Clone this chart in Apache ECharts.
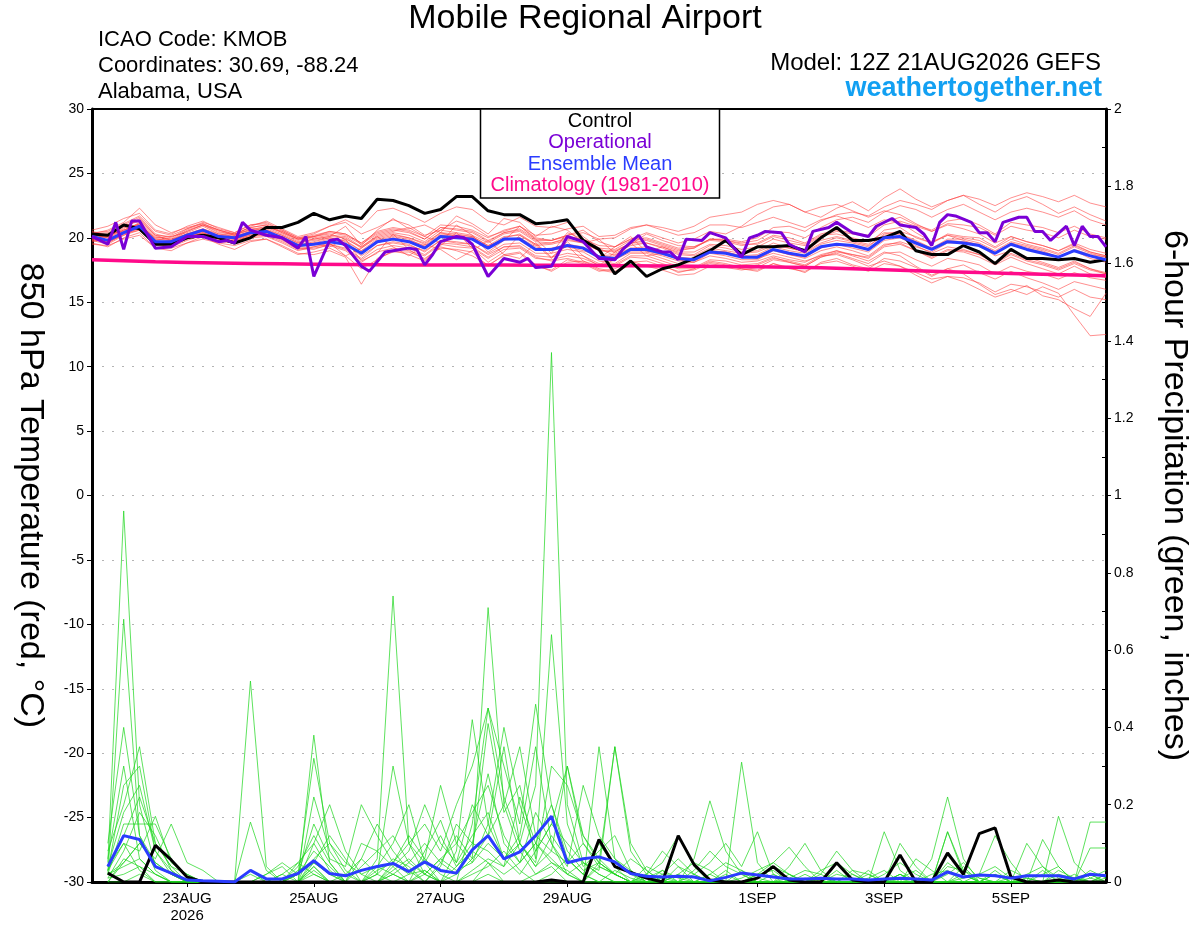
<!DOCTYPE html>
<html>
<head>
<meta charset="utf-8">
<script src="https://cdn.jsdelivr.net/npm/echarts@6/dist/echarts.min.js"></script>
<style>
html,body{margin:0;padding:0;background:#fff;}
#chart{width:1200px;height:927px;}
</style>
</head>
<body>
<div id="chart"></div>
<script>
// ---------- tick labels ----------
const xTickHours = [36, 84, 132, 180, 252, 300, 348];
const xTickLabels = ['23AUG\n2026', '25AUG', '27AUG', '29AUG', '1SEP', '3SEP', '5SEP'];

// ---------- 850 hPa temperature, 6-hourly from 12Z 21AUG (hour 0) ----------
const tempControl = [20.3,20.2,21.0,20.7,19.5,19.5,20.0,20.2,20.0,19.6, 20.0,20.8,20.8,21.2,21.9,21.4,21.7,21.5,23.0,22.9, 22.5,21.9,22.2,23.2,23.2,22.1,21.8,21.8,21.1,21.2, 21.4,19.8,19.1,17.2,18.2,17.0,17.6,17.9,18.4,19.0, 19.8,18.7,19.3,19.3,19.4,19.0,20.0,20.8,19.8,19.8, 20.0,20.5,19.0,18.7,18.7,19.4,18.9,18.0,19.1,18.4, 18.4,18.3,18.4,18.1,18.3];
const tempMean = [20.1,19.8,20.4,20.9,19.7,19.7,20.2,20.6,20.1,20.0, 20.4,20.5,20.0,19.4,19.5,19.7,19.5,18.8,19.7,19.9, 19.7,19.2,20.1,20.0,19.9,19.2,19.9,19.9,19.1,19.1, 19.4,19.2,18.5,18.4,19.1,19.1,18.8,18.4,18.3,18.9, 18.8,18.5,18.5,19.1,18.8,18.6,19.3,19.5,19.4,19.1, 20.0,20.1,19.6,19.1,19.7,19.6,19.4,18.8,19.5,19.1, 18.8,18.5,19.0,18.6,18.3];
// climatology, daily (every 24 h)
const climTemp = [18.3,18.15,18.05,17.98,17.93,17.9,17.9,17.88,17.85,17.82,17.78,17.72,17.6,17.45,17.3,17.18,17.05];
// operational run (irregular output hours)
const opHours = [0,6,9,12,15,18, 24,30,36,42,48, 51,54,57,60,66, 72,78,81,84,90, 93,96,102,105,111, 114,120,123,126,129, 132,138,141,144,150, 156,162,165,168,174, 180,186,192,198,201, 207,210,216,219,222, 225,231,234,240,246, 249,252,255,261,264, 270,273,279,282,288, 294,297,303,306,312, 315,318,321,324,327, 333,336,339,342,345, 351,354,357,360,363, 369,372,375,378,381,384];
const opTemp = [20.1,19.5,21.2,19.1,21.3,21.3, 19.2,19.3,20.1,20.1,19.7, 19.8,19.6,21.2,20.6,20.2, 20.0,19.2,20.1,17.0,19.8, 19.9,19.4,17.8,17.4,18.9, 19.0,19.2,19.1,17.9,18.7, 19.7,20.1,20.0,19.5,17.0, 18.4,18.1,18.4,17.7,17.8, 20.1,19.7,18.4,18.3,19.1, 20.2,19.3,18.9,18.9,18.3, 19.9,19.8,20.4,20.0,18.5, 20.0,20.2,20.5,20.4,19.5, 18.9,20.5,20.8,21.2,20.4, 20.1,20.9,21.5,21.0,20.8, 20.3,19.4,21.2,21.8,21.7, 21.2,20.4,20.4,19.7,21.2, 21.6,21.6,20.5,20.5,19.8, 20.9,19.4,20.9,20.1,20.1,19.3];

// ensemble members (temperature)
const tempM01 = [20.3,20.6,21.2,22.3,21.0,20.4,20.8,21.1,20.6,20.2, 20.9,21.3,20.7,20.1,20.4,20.9,21.2,20.3,20.8,21.4, 21.0,20.2,20.6,21.3,20.9,20.1,20.5,20.9,20.0,19.8, 20.2,20.6,19.7,19.3,19.9,20.4,20.0,19.6,19.9,20.5, 20.3,20.9,21.8,22.4,22.6,22.0,21.6,22.3,22.8,22.1, 23.1,23.8,23.0,22.4,22.9,23.3,22.6,22.0,22.8,23.2, 22.6,21.9,22.4,21.8,21.3];
const tempM02 = [19.6,19.3,20.0,20.4,19.2,19.0,19.6,20.1,19.5,19.1, 19.7,19.9,19.3,18.7,18.9,19.2,18.6,17.6,18.3,19.0, 18.7,18.2,19.3,19.0,18.6,17.9,18.6,18.8,17.8,17.5, 18.3,18.0,17.4,17.6,18.2,17.8,17.9,17.3,17.6,18.1, 17.9,17.6,17.4,18.0,17.7,17.3,18.1,18.4,17.9,17.6, 18.4,18.2,17.7,17.0,17.6,17.9,17.3,16.8,17.4,16.9, 16.5,16.0,16.6,16.3,16.0];
const tempM03 = [20.0,20.1,20.7,21.5,20.2,19.8,20.5,21.0,20.4,20.3, 20.6,20.9,20.4,19.8,20.1,20.3,19.9,19.3,20.2,20.5, 20.8,20.1,19.6,21.0,20.2,18.9,19.8,20.9,19.9,18.8, 20.4,19.9,18.4,19.3,20.1,18.9,19.3,18.8,18.7,19.4, 19.2,18.9,19.0,19.6,19.2,19.0,19.8,20.1,19.8,19.5, 20.6,20.8,20.0,19.6,20.3,20.1,20.0,19.3,20.1,19.7, 19.4,19.0,19.6,19.1,18.8];
const tempM04 = [19.9,19.6,20.3,20.6,19.5,19.4,19.9,20.4,19.9,19.8, 20.2,20.3,19.8,19.2,19.1,19.5,19.2,18.4,19.4,19.6, 19.4,19.0,19.8,19.6,19.5,18.8,19.5,19.6,18.8,18.8, 19.1,18.9,18.2,18.0,18.8,18.8,18.4,18.0,18.1,18.6, 18.4,18.1,18.2,18.6,18.3,18.1,18.7,19.0,18.6,18.2, 18.9,18.6,17.8,17.1,17.6,17.2,16.4,15.6,16.0,15.6, 16.2,15.7,14.0,12.4,12.5];
const tempM05 = [20.2,20.0,20.8,21.0,19.9,19.8,20.3,20.5,20.2,19.9, 20.3,20.6,20.2,19.6,19.8,20.0,19.7,19.0,19.6,20.0, 19.8,19.4,20.3,20.2,20.1,19.4,19.8,20.0,19.3,19.0, 19.3,19.0,18.6,18.7,19.2,19.0,18.7,18.5,18.4,19.0, 18.9,18.6,18.4,18.8,18.5,18.2,18.6,18.7,18.3,17.8, 18.2,17.8,17.3,16.8,17.0,16.6,16.0,15.4,15.8,16.3, 15.5,15.2,14.5,13.9,15.7];
const tempM06 = [20.5,20.2,21.0,21.6,20.3,20.0,20.7,21.2,20.8,20.4, 21.0,21.1,20.6,20.0,20.3,20.9,21.4,20.8,22.1,22.3, 21.8,21.2,21.9,22.4,22.2,21.3,21.0,21.6,20.9,20.8, 21.2,20.1,19.2,18.6,19.5,20.3,19.8,19.4,19.3,19.8, 19.7,19.4,19.6,20.2,20.0,19.6,20.3,20.6,20.4,20.2, 21.2,21.6,21.0,20.6,21.3,21.5,21.0,20.3,21.2,21.0, 20.8,20.4,20.9,20.3,20.0];
const tempM07 = [19.8,19.5,20.2,20.8,19.6,19.3,19.8,20.2,19.7,19.6, 20.0,20.1,19.6,19.0,19.3,19.5,19.1,18.3,19.1,19.4, 19.2,18.7,19.6,19.5,19.3,18.5,19.3,19.4,18.6,18.5, 18.8,18.6,18.0,17.9,18.6,18.6,18.2,17.8,17.7,18.3, 18.2,17.9,18.0,18.5,18.1,17.8,18.5,18.8,18.4,18.0, 18.8,18.9,18.3,17.8,18.4,18.2,17.9,17.2,17.8,17.4, 17.2,16.8,17.3,16.9,16.7];
const tempM08 = [20.1,20.3,20.5,21.2,20.0,20.1,20.4,20.9,20.3,20.1, 20.5,20.8,20.3,19.7,19.9,20.1,20.0,19.2,20.0,20.3, 20.0,19.6,20.4,20.1,20.0,19.3,20.0,20.3,19.5,19.6, 20.0,19.8,19.2,19.1,19.8,19.9,19.5,19.1,19.2,19.9, 19.8,19.6,19.8,20.5,20.4,20.0,20.8,21.4,21.6,21.2, 22.0,22.5,22.2,21.6,22.2,22.6,22.0,21.4,22.0,22.3, 22.0,21.6,22.1,21.4,21.0];
const tempM09 = [19.7,19.9,20.6,21.1,19.8,19.6,20.0,20.6,20.1,20.0, 20.4,20.3,19.9,19.3,19.6,19.3,19.9,18.2,18.8,20.3, 19.1,18.3,19.4,20.4,19.2,18.1,18.9,20.2,19.5,18.4, 19.7,18.6,17.8,18.9,19.6,18.6,18.8,18.3,18.1,18.8, 18.6,18.3,18.3,19.0,18.7,18.5,19.2,19.5,19.2,18.9, 19.8,20.0,19.4,18.8,19.3,19.1,18.7,18.1,18.8,18.3, 18.0,17.6,18.1,17.6,17.2];
const tempM10 = [20.4,20.1,20.9,21.3,20.1,19.9,20.6,21.0,20.5,20.2, 20.7,20.8,20.5,19.9,20.2,20.5,20.3,19.6,20.5,20.8, 20.6,20.1,21.0,20.9,20.6,20.0,20.6,20.9,20.2,20.3, 20.7,20.9,20.1,20.2,20.8,21.0,20.6,20.2,20.4,21.0, 21.0,20.8,21.2,21.6,21.2,20.8,21.4,21.7,21.3,20.8, 21.4,21.2,20.4,19.7,20.2,19.8,19.4,18.6,19.0,18.5, 18.1,17.7,18.2,17.6,17.3];
const tempM11 = [20.0,19.7,20.4,20.9,19.7,19.7,20.1,20.4,20.0,19.9, 20.3,20.5,20.1,19.5,19.6,19.9,19.6,18.7,19.8,20.1, 19.9,19.3,20.2,20.1,20.0,19.2,19.9,20.0,19.1,19.2, 19.5,19.3,18.6,18.5,19.2,19.3,18.9,18.4,18.3,19.0, 18.9,18.6,18.7,19.3,19.0,18.8,19.5,19.8,19.6,19.3, 20.3,20.5,20.1,19.6,20.2,20.0,19.8,19.2,19.9,19.5, 19.2,18.8,19.4,18.9,18.6];
const tempM12 = [19.5,19.4,19.9,20.2,19.2,19.2,19.6,19.9,19.6,19.4, 19.8,19.9,19.4,18.8,18.7,19.0,18.5,16.4,18.4,18.9, 18.9,18.4,19.2,19.1,18.9,17.8,18.7,18.9,17.9,17.4, 18.1,18.2,17.6,17.4,18.1,18.2,17.8,17.4,17.5,18.0, 17.8,17.6,17.5,18.0,17.6,17.4,18.0,18.2,17.8,17.4, 18.0,17.8,17.1,16.5,17.0,16.9,16.5,15.8,16.4,16.2, 15.8,15.4,16.0,15.4,15.2];
const tempM13 = [20.3,20.4,20.9,21.4,20.2,20.1,20.5,21.0,20.6,20.3, 20.8,21.0,20.4,19.9,20.0,20.2,20.1,19.3,20.1,20.4, 20.2,19.7,20.6,20.4,20.2,19.6,20.3,20.5,19.7,19.6, 19.9,19.6,19.0,19.0,19.6,19.6,19.3,18.9,18.9,19.5, 19.4,19.1,19.3,19.9,19.6,19.4,20.1,20.5,20.3,20.1, 21.0,21.3,20.9,20.5,21.1,21.0,20.8,20.2,20.9,20.6, 20.4,20.0,20.6,20.1,19.9];
const tempM14 = [19.9,20.2,20.6,21.0,20.0,19.9,20.3,20.7,20.3,20.2, 20.6,20.7,20.2,19.6,19.9,20.1,20.9,19.4,20.6,21.5, 20.7,21.0,20.4,21.7,21.1,20.3,21.5,21.2,20.1,20.9, 20.6,19.6,19.9,18.8,19.4,19.6,19.2,18.7,18.6,19.2, 19.0,18.8,18.9,19.4,19.2,18.9,19.6,20.0,19.7,19.4, 20.2,20.3,19.8,19.2,19.9,19.9,19.6,19.0,19.7,19.4, 19.1,18.7,19.3,18.8,18.5];
const tempM15 = [20.1,19.6,20.3,20.7,19.4,19.5,20.0,20.3,19.8,19.8, 20.1,20.2,19.7,19.1,19.2,19.4,19.0,18.1,18.9,19.2, 19.0,18.6,19.5,19.3,19.2,18.4,19.1,19.2,18.4,18.3, 18.6,18.4,17.9,17.8,18.5,18.4,18.0,17.6,17.6,18.2, 18.0,17.7,17.9,18.4,18.2,17.9,18.6,19.0,18.7,18.4, 19.3,19.5,19.0,18.5,19.1,19.0,18.7,18.0,18.7,18.2, 17.9,17.5,18.0,17.5,17.2];
const tempM16 = [20.6,20.9,21.5,21.9,20.6,20.3,20.9,21.3,20.7,20.4, 21.0,21.2,20.6,20.0,20.1,20.5,20.3,19.6,20.4,20.7, 20.5,19.9,20.8,20.7,20.5,19.8,20.4,20.6,19.8,19.8, 20.1,19.9,19.4,19.3,19.9,20.0,19.6,19.2,19.3,19.9, 19.8,19.5,19.5,20.1,19.8,19.5,20.2,20.3,20.0,19.7, 20.4,20.3,19.7,19.2,19.8,19.7,19.5,18.9,19.6,19.3, 19.0,18.5,19.0,18.4,18.1];
const tempM17 = [19.8,19.8,20.4,20.8,19.6,19.5,20.0,20.4,19.9,19.7, 20.1,20.3,19.9,19.3,19.5,19.7,19.5,18.6,19.4,19.7, 19.5,18.9,19.8,19.7,19.5,18.7,19.3,19.3,18.5,18.2, 18.4,18.1,17.5,17.3,17.9,17.8,17.5,17.1,17.2,17.8, 17.7,17.5,17.7,18.3,18.1,17.8,18.5,18.9,18.7,18.5, 19.4,19.7,19.3,18.9,19.6,19.6,19.4,18.8,19.5,19.2, 18.9,18.5,19.1,18.7,18.5];
const tempM18 = [20.2,20.0,20.6,21.1,19.9,19.8,20.3,20.7,20.2,20.1, 20.5,20.6,20.0,19.4,19.7,20.0,19.8,19.0,19.9,20.2, 20.0,19.5,20.4,20.3,20.1,19.4,20.1,20.2,19.4,19.5, 19.8,19.6,19.0,18.9,19.6,19.8,19.4,19.0,19.2,19.9, 19.9,19.7,20.0,20.8,20.9,20.5,21.3,21.8,22.0,21.7, 22.4,22.9,22.6,22.2,22.9,23.3,23.0,22.5,23.1,23.5, 23.2,22.8,23.3,22.7,22.4];
const tempM19 = [19.9,19.7,20.2,20.6,19.5,19.6,20.1,20.5,20.0,19.9, 20.2,20.4,19.9,19.2,19.3,19.6,18.6,19.2,20.1,19.3, 18.6,19.5,19.1,18.3,19.0,19.8,18.7,18.4,19.6,18.5, 19.4,18.2,17.8,18.3,18.9,18.9,18.6,18.2,18.2,18.9, 18.8,18.5,18.6,19.1,18.7,18.4,19.0,19.3,19.0,18.6, 19.5,19.6,19.0,18.4,19.0,18.9,18.5,17.9,18.5,18.0, 17.6,17.2,17.8,17.2,16.9];
const tempM20 = [20.4,20.5,21.1,21.7,20.5,20.2,20.7,21.1,20.6,20.3, 20.8,21.0,20.5,19.9,20.1,20.4,20.2,19.5,20.3,20.6, 20.4,19.9,20.8,20.6,20.4,19.7,20.4,20.7,19.9,19.8, 20.2,20.4,19.9,20.0,20.7,21.0,20.8,20.5,20.9,21.6, 21.8,22.0,22.6,22.9,22.6,22.0,22.4,22.6,22.1,21.6, 22.1,21.8,21.1,20.5,21.0,20.7,20.3,19.6,20.1,19.7, 19.4,19.0,19.5,18.9,18.6];
const tempMembers = [tempM01,tempM02,tempM03,tempM04,tempM05,tempM06,tempM07,tempM08,tempM09,tempM10,tempM11,tempM12,tempM13,tempM14,tempM15,tempM16,tempM17,tempM18,tempM19,tempM20];

// ---------- 6-hour precipitation (inches), valid hours 6,12,...,384 ----------
const precipControl = [0.023,0,0,0.095,0.057,0.013,0,0,0,0, 0,0,0,0,0,0,0,0,0,0, 0,0,0,0,0,0,0,0,0.005,0, 0,0.11,0.04,0.025,0.01,0,0.12,0.045,0.005,0, 0,0.01,0.04,0.005,0,0,0.05,0.005,0,0, 0.07,0,0,0.075,0.02,0.125,0.14,0.013,0,0, 0.005,0,0,0];
const precipMean = [0.04,0.12,0.11,0.04,0.023,0.005,0.003,0.002,0,0.03, 0.008,0.008,0.022,0.055,0.022,0.016,0.03,0.04,0.048,0.027, 0.052,0.03,0.023,0.083,0.12,0.06,0.078,0.12,0.17,0.05, 0.06,0.065,0.052,0.022,0.015,0.013,0.015,0.013,0.003,0.012, 0.023,0.018,0.013,0.008,0.008,0.01,0.008,0.008,0.005,0.008, 0.01,0.008,0.005,0.026,0.013,0.018,0.016,0.01,0.016,0.016, 0.016,0.008,0.02,0.016];
const precipM01 = [0.05,0.96,0.20,0.04,0.02,0,0,0,0,0, 0,0.02,0.05,0.10,0.03,0,0.04,0.08,0.12,0.05, 0.02,0.06,0.10,0.18,0.25,0.12,0.05,0.10,0.20,0.08, 0.03,0.05,0.02,0,0.01,0.03,0,0,0.02,0.05, 0.03,0.01,0,0,0.02,0,0,0,0.01,0.03, 0,0,0,0.05,0.02,0,0,0,0.01,0, 0,0.02,0,0];
const precipM02 = [0.02,0.68,0.12,0.03,0,0,0,0,0,0, 0,0,0.03,0.05,0.12,0.06,0,0.03,0.05,0.10, 0.15,0.08,0.20,0.30,0.45,0.22,0.10,0.04,0.12,0.06, 0.02,0,0.03,0.01,0,0,0.02,0.05,0.03,0, 0.01,0.03,0.05,0.02,0,0.01,0,0.02,0,0, 0.01,0.03,0,0,0,0.02,0.04,0.01,0,0, 0.03,0.01,0,0.02];
const precipM03 = [0.08,0.20,0.35,0.10,0.04,0.02,0,0,0,0, 0.02,0.04,0,0.22,0.08,0.02,0.06,0.02,0.30,0.10, 0.05,0.12,0.04,0.08,0.41,0.18,0.25,0.06,0.64,0.15, 0.04,0.08,0.12,0.03,0,0.01,0,0.03,0.08,0.04, 0.02,0,0,0.01,0.03,0.02,0,0,0,0.02, 0.05,0.02,0,0.13,0.03,0.01,0,0,0.02,0.04, 0.01,0,0.03,0.01];
const precipM04 = [0.03,0.25,0.30,0.08,0.03,0,0,0,0,0.52, 0.04,0,0,0.05,0.02,0,0,0.04,0.02,0, 0.08,0.16,0.05,0.20,0.12,0.35,0.10,0.04,0.08,0.30, 0.12,0.05,0.02,0,0,0.03,0.01,0,0,0.02, 0,0.01,0.04,0.02,0,0,0.03,0,0,0.01, 0,0,0.02,0.03,0,0,0.02,0,0,0.03, 0,0.01,0.02,0];
const precipM05 = [0.10,0.40,0.12,0.05,0.02,0,0,0,0,0, 0,0,0,0.38,0.05,0,0,0.02,0.06,0.04, 0,0.05,0.12,0.06,0.71,0.20,0.08,0.02,0.05,0.03, 0,0.35,0.06,0.02,0,0,0.04,0.02,0,0, 0,0.02,0.03,0,0.01,0,0.02,0.01,0,0, 0.02,0,0,0.02,0.05,0.01,0,0,0,0.02, 0.04,0,0,0.01];
const precipM06 = [0.02,0.15,0.15,0.15,0.06,0.01,0,0,0,0.155, 0.03,0,0.04,0.12,0.05,0,0.10,0.08,0.04,0, 0.03,0,0.08,0.42,0.15,0.06,0.12,0.35,0.10,0.02, 0.05,0.03,0.35,0.08,0.02,0,0,0.06,0.21,0.08, 0.02,0,0,0,0,0.03,0.05,0.02,0,0, 0,0.01,0,0,0.02,0,0,0.01,0,0, 0,0,0.01,0.03];
const precipM07 = [0.04,0.10,0.08,0.17,0.05,0.02,0,0,0,0.02, 0,0,0.02,0.32,0.10,0.05,0.02,0,0.05,0.12, 0.06,0.02,0,0.15,0.45,0.30,0.15,0.46,0.20,0.06, 0.02,0.10,0.04,0,0.02,0.05,0.12,0.04,0,0.03, 0,0,0.02,0,0,0,0,0.03,0.02,0, 0,0,0.06,0.22,0.06,0,0.02,0,0,0, 0.02,0.01,0,0];
const precipM08 = [0.02,0.05,0.10,0.06,0.15,0.05,0.03,0,0,0, 0,0.02,0,0.04,0,0.02,0,0.06,0.74,0.10, 0.02,0,0.04,0.10,0.08,0.04,0.22,0.10,0.05,0.02, 0,0.04,0.02,0.06,0.03,0,0,0,0.02,0, 0,0.02,0.05,0.09,0.04,0,0,0,0,0, 0.02,0,0,0.04,0.03,0,0,0,0,0, 0.17,0.05,0.01,0];
const precipM09 = [0,0.06,0.04,0.02,0,0,0,0,0,0, 0,0,0,0.06,0.10,0.03,0,0,0.04,0.08, 0.20,0.10,0.05,0.12,0.18,0.06,0.10,0.25,1.37,0.20, 0.05,0.02,0,0,0,0.02,0.06,0.02,0,0, 0.03,0,0,0,0,0.02,0.08,0.03,0,0, 0.02,0,0,0,0,0,0,0.03,0.01,0, 0,0,0.02,0];
const precipM10 = [0.03,0.12,0.22,0.10,0.04,0,0,0,0,0, 0.02,0.05,0.02,0.15,0.06,0.04,0.20,0.12,0.05,0.02, 0.06,0.25,0.10,0.05,0.15,0.40,0.20,0.08,0.15,0.30, 0.10,0.04,0.02,0,0,0,0.02,0,0,0, 0.31,0.05,0,0.02,0,0.01,0,0,0,0.13, 0.03,0,0,0,0.01,0.02,0.12,0.05,0,0, 0,0.01,0,0];
const precipM11 = [0.01,0.08,0.18,0.12,0.03,0,0,0,0,0, 0,0,0.05,0.02,0,0,0.06,0.15,0.08,0.03, 0,0.04,0.15,0.10,0.28,0.10,0.05,0.18,0.10,0.04, 0.25,0.12,0.06,0.03,0,0,0,0.02,0.05,0.10, 0.04,0.13,0.02,0,0,0,0,0,0.02,0, 0,0.06,0.03,0,0,0,0,0,0.10,0.04, 0,0,0,0.02];
const precipM12 = [0.06,0.30,0.06,0.02,0,0,0,0,0,0, 0,0,0.02,0.08,0.04,0,0,0,0.02,0.05, 0.10,0.05,0.02,0.06,0.12,0.20,0.35,0.12,0.08,0.05, 0.10,0.05,0.02,0,0,0,0,0,0,0, 0,0,0,0.04,0.10,0.03,0,0,0,0, 0,0,0,0,0.04,0,0,0,0,0.11, 0.04,0,0,0];
const precipM13 = [0.04,0.18,0.25,0.08,0.02,0,0,0,0,0, 0,0,0,0.10,0.20,0.08,0.02,0.04,0.10,0.20, 0.05,0,0.02,0.08,0.05,0.02,0.05,0.10,0.06,0.02, 0,0.05,0.35,0.10,0.03,0,0,0,0,0, 0,0,0,0,0,0,0,0,0.03,0, 0,0,0,0.13,0.02,0,0,0,0,0, 0,0,0.155,0.155];
const precipM14 = [0,0.05,0.10,0.05,0.02,0,0,0,0,0, 0,0,0,0.04,0,0,0,0.02,0,0, 0.02,0.06,0.03,0.05,0.10,0.06,0.02,0.08,0.15,0.10, 0.05,0.02,0,0,0,0,0,0,0,0, 0,0,0,0,0,0,0,0,0,0, 0,0,0,0,0,0,0,0,0,0, 0,0,0.088,0.088];
const precipM15 = [0.02,0.04,0.06,0.02,0,0,0,0,0,0.03, 0,0,0,0.02,0,0,0,0,0.02,0, 0,0,0,0.03,0.06,0.04,0.10,0.05,0.30,0.25, 0.12,0.06,0.02,0,0.04,0.02,0,0,0,0, 0,0,0,0,0,0,0,0,0,0, 0.10,0.04,0,0,0,0,0,0,0,0, 0,0,0,0];
const precipM16 = [0.03,0.10,0.03,0,0,0,0,0,0,0, 0,0,0,0.03,0,0,0,0,0,0, 0,0,0,0,0.05,0,0,0.02,0.04,0, 0,0,0,0,0,0,0,0,0,0, 0,0,0,0,0,0,0,0,0,0, 0,0,0,0,0,0,0,0,0,0, 0,0,0,0];
const precipM17 = [0.01,0.02,0.04,0,0,0,0,0,0,0, 0,0,0.02,0.05,0.02,0,0,0,0,0.02, 0.03,0,0,0.02,0.04,0.08,0.03,0,0.02,0.06, 0.02,0,0,0,0.02,0.08,0.04,0,0,0, 0,0,0,0,0,0,0,0,0,0, 0,0,0,0,0,0,0.03,0,0,0, 0,0,0,0];
const precipM18 = [0,0,0.02,0,0,0,0,0,0,0, 0,0,0,0,0,0,0,0,0.03,0.06, 0.02,0,0,0,0.02,0,0,0,0,0, 0,0,0,0,0,0,0,0,0,0, 0,0,0,0,0,0,0,0,0,0, 0,0,0,0,0,0,0,0,0,0, 0,0,0,0];
const precipMembers = [precipM01,precipM02,precipM03,precipM04,precipM05,precipM06,precipM07,precipM08,precipM09,precipM10,precipM11,precipM12,precipM13,precipM14,precipM15,precipM16,precipM17,precipM18];

// ---------- build chart ----------
const FONT = '"Liberation Sans", Arial, Helvetica, sans-serif';
const tempPts = arr => arr.map((v, i) => [i * 6, v]);
const precipPts = arr => arr.map((v, i) => [(i + 1) * 6, v]);

const series = [];
tempMembers.forEach((m, k) => series.push({
  name: 'member' + (k + 1), type: 'line', yAxisIndex: 0, data: tempPts(m),
  symbol: 'none', silent: true, z: 2,
  lineStyle: { color: 'rgba(255,60,60,0.72)', width: 0.8 }
}));
precipMembers.forEach((m, k) => series.push({
  name: 'precip member' + (k + 1), type: 'line', yAxisIndex: 1, data: precipPts(m),
  symbol: 'none', silent: true, z: 2,
  lineStyle: { color: 'rgba(30,215,30,0.9)', width: 0.8 }
}));
series.push({
  name: 'Climatology (1981-2010)', type: 'line', yAxisIndex: 0,
  data: climTemp.map((v, i) => [i * 24, v]), smooth: true, symbol: 'none', z: 3,
  lineStyle: { color: '#ff0a8a', width: 3.5 }
});
series.push({
  name: 'Control', type: 'line', yAxisIndex: 0, data: tempPts(tempControl),
  symbol: 'none', z: 4, lineStyle: { color: '#000', width: 3 }
});
series.push({
  name: 'Ensemble Mean', type: 'line', yAxisIndex: 0, data: tempPts(tempMean),
  symbol: 'none', z: 5, lineStyle: { color: '#2a3cff', width: 3 }
});
series.push({
  name: 'Operational', type: 'line', yAxisIndex: 0,
  data: opHours.map((h, i) => [h, opTemp[i]]),
  symbol: 'none', z: 6, lineStyle: { color: '#7a00d6', width: 3 }
});
series.push({
  name: 'Control precip', type: 'line', yAxisIndex: 1, data: precipPts(precipControl),
  symbol: 'none', z: 4, lineStyle: { color: '#000', width: 3 }
});
series.push({
  name: 'Ensemble Mean precip', type: 'line', yAxisIndex: 1, data: precipPts(precipMean),
  symbol: 'none', z: 5, lineStyle: { color: '#2a3cff', width: 3 }
});

const legendLines = [
  { text: 'Control', color: '#000000' },
  { text: 'Operational', color: '#7a00d6' },
  { text: 'Ensemble Mean', color: '#2a3cff' },
  { text: 'Climatology (1981-2010)', color: '#ff0a8a' }
];

const chart = echarts.init(document.getElementById('chart'), null, { renderer: 'canvas' });
chart.setOption({
  animation: false,
  backgroundColor: '#ffffff',
  textStyle: { fontFamily: FONT },
  grid: { left: 92, right: 94, top: 109, bottom: 45, show: false, containLabel: false },
  xAxis: {
    type: 'value', min: 0, max: 384,
    axisLine: { show: true, onZero: false, lineStyle: { color: '#000', width: 3 } },
    axisTick: { show: true, customValues: xTickHours, length: 5, lineStyle: { color: '#000', width: 1 } },
    axisLabel: {
      customValues: xTickHours, color: '#000', fontSize: 15, fontFamily: FONT, margin: 8, lineHeight: 17,
      formatter: v => { const i = xTickHours.indexOf(v); return i >= 0 ? xTickLabels[i] : ''; }
    },
    splitLine: { show: false }
  },
  yAxis: [
    {
      type: 'value', min: -30, max: 30, interval: 5, position: 'left',
      name: '850 hPa Temperature (red, °C)', nameLocation: 'middle', nameRotate: -90, nameGap: 45,
      nameTextStyle: { fontSize: 34, color: '#000', fontFamily: FONT },
      axisLine: { show: true, lineStyle: { color: '#000', width: 3 } },
      axisTick: { show: true, length: 5, lineStyle: { color: '#000', width: 1 } },
      axisLabel: { color: '#000', fontSize: 14, fontFamily: FONT, margin: 8 },
      splitLine: { show: true, lineStyle: { color: '#b4b4b4', width: 1, type: [2, 8] } }
    },
    {
      type: 'value', min: 0, max: 2, interval: 0.2, position: 'right',
      name: '6-hour Precipitation (green, inches)', nameLocation: 'middle', nameRotate: -90, nameGap: 51,
      nameTextStyle: { fontSize: 34, color: '#000', fontFamily: FONT },
      axisLine: { show: true, lineStyle: { color: '#000', width: 3 } },
      axisTick: { show: true, length: 5, lineStyle: { color: '#000', width: 1 } },
      axisLabel: { color: '#000', fontSize: 14, fontFamily: FONT, margin: 8,
        formatter: v => String(Math.round(v * 10) / 10) },
      splitLine: { show: false }
    },
    {
      type: 'value', min: 0, max: 2, interval: 0.2, position: 'right',
      axisLine: { show: false },
      axisTick: { show: false, inside: true },
      minorTick: { show: true, splitNumber: 2, length: 4, lineStyle: { color: '#000', width: 1 } },
      axisLabel: { show: false },
      splitLine: { show: false }
    }
  ],
  graphic: [
    { type: 'line', z: 90, shape: { x1: 92, y1: 109, x2: 1106, y2: 109 }, style: { stroke: '#000', lineWidth: 2 } },
    { type: 'text', z: 100, style: { text: 'Mobile Regional Airport', x: 585, y: 19, align: 'center', verticalAlign: 'middle', font: '34px ' + FONT, fill: '#000' } },
    { type: 'text', z: 100, style: { text: 'ICAO Code: KMOB', x: 98, y: 40, align: 'left', verticalAlign: 'middle', font: '22px ' + FONT, fill: '#000' } },
    { type: 'text', z: 100, style: { text: 'Coordinates: 30.69, -88.24', x: 98, y: 66, align: 'left', verticalAlign: 'middle', font: '22px ' + FONT, fill: '#000' } },
    { type: 'text', z: 100, style: { text: 'Alabama, USA', x: 98, y: 92, align: 'left', verticalAlign: 'middle', font: '22px ' + FONT, fill: '#000' } },
    { type: 'text', z: 100, style: { text: 'Model: 12Z 21AUG2026 GEFS', x: 1101, y: 63, align: 'right', verticalAlign: 'middle', font: '24px ' + FONT, fill: '#000' } },
    { type: 'text', z: 100, style: { text: 'weathertogether.net', x: 1102, y: 89, align: 'right', verticalAlign: 'middle', font: 'bold 27px ' + FONT, fill: '#12a0f2' } },
    { type: 'rect', z: 100, shape: { x: 480.5, y: 109, width: 239, height: 89 }, style: { fill: '#fff', stroke: '#000', lineWidth: 1.5 } }
  ].concat(legendLines.map((l, i) => ({
    type: 'text', z: 101,
    style: { text: l.text, x: 600, y: 121 + i * 21.5, align: 'center', verticalAlign: 'middle', font: '20px ' + FONT, fill: l.color }
  }))),
  series: series
});
</script>
</body>
</html>
